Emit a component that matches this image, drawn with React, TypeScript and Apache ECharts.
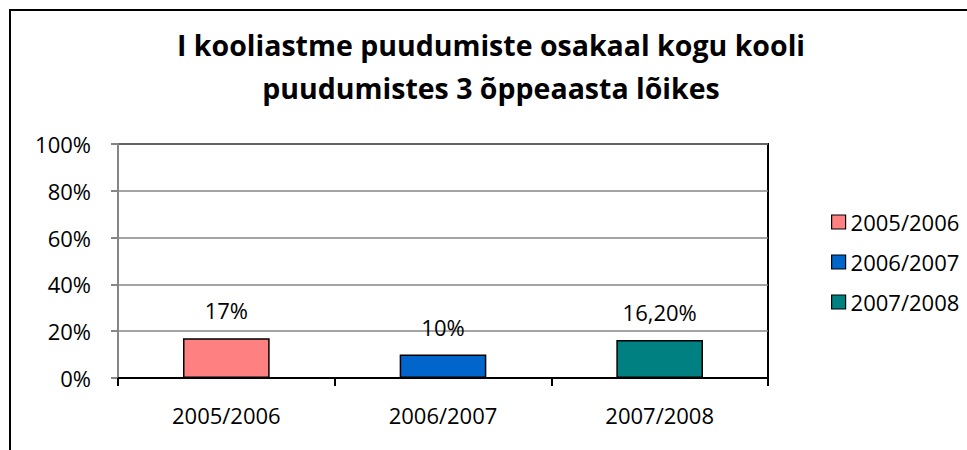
import React, { useEffect, useRef } from "react";
import * as echarts from "echarts";

const titleLines = [
  "I kooliastme puudumiste osakaal kogu kooli",
  "puudumistes 3 õppeaasta lõikes",
];
const categories = ["2005/2006", "2006/2007", "2007/2008"];
const values = [17, 10, 16.2];
const valueLabels = ["17%", "10%", "16,20%"];
const colors = ["#FF8080", "#0066CC", "#008080"];
const yMin = 0;
const yMax = 100;
const yStep = 20;

const FONT = '"Open Sans", "DejaVu Sans", sans-serif';

export default function App() {
  const ref = useRef<HTMLDivElement>(null);

  useEffect(() => {
    document.body.style.margin = "0";
    if (!ref.current) return;
    const chart = echarts.init(ref.current, null, { renderer: "svg" });

    const series = categories.map((name, i) => ({
      name,
      type: "bar",
      barGap: "-100%",
      barWidth: "40%",
      data: values.map((v, j) => (j === i ? v : null)),
      itemStyle: { color: colors[i], borderColor: "#000", borderWidth: 1.5 },
      label: {
        show: true,
        position: "top",
        distance: 17,
        formatter: valueLabels[i],
        color: "#000",
        fontSize: 22,
        fontFamily: FONT,
      },
    }));

    chart.setOption({
      animation: false,
      backgroundColor: "#fff",
      grid: {
        left: 118,
        top: 144,
        right: 199,
        bottom: 72,
        show: true,
        borderColor: "#000",
        borderWidth: 2,
        backgroundColor: "transparent",
      },
      legend: {
        orient: "vertical",
        left: 826,
        top: 206,
        itemWidth: 14,
        itemHeight: 14,
        itemGap: 18,
        icon: "rect",
        data: categories,
        itemStyle: { borderColor: "#000", borderWidth: 1.2 },
        textStyle: { fontSize: 22, color: "#000", fontFamily: FONT },
      },
      xAxis: {
        type: "category",
        data: categories,
        boundaryGap: true,
        axisLine: { lineStyle: { color: "#000", width: 2 } },
        axisTick: { show: true, length: 8, lineStyle: { color: "#000", width: 2 } },
        axisLabel: { margin: 26, fontSize: 22, color: "#000", fontFamily: FONT },
      },
      yAxis: {
        type: "value",
        min: yMin,
        max: yMax,
        interval: yStep,
        axisLine: { show: true, lineStyle: { color: "#868686", width: 2 } },
        axisTick: { show: true, length: 7, lineStyle: { color: "#868686", width: 2 } },
        splitLine: { show: true, lineStyle: { color: "#868686", width: 1.5 } },
        axisLabel: {
          formatter: "{value}%",
          margin: 27,
          fontSize: 22,
          color: "#000",
          fontFamily: FONT,
        },
      },
      graphic: [
        {
          type: "rect",
          z: -10,
          silent: true,
          shape: { x: 10, y: 10, width: 1000, height: 500 },
          style: { fill: "none", stroke: "#000", lineWidth: 2 },
        },
        ...titleLines.map((t, i) => ({
          type: "text",
          x: 491,
          y: 45 + i * 43,
          style: {
            text: t,
            fill: "#000",
            fontSize: 28.5,
            fontWeight: "bold",
            fontFamily: FONT,
            align: "center",
            verticalAlign: "middle",
          },
        })),
      ],
      series,
    });

    return () => chart.dispose();
  }, []);

  return <div ref={ref} style={{ width: 967, height: 450 }} />;
}
